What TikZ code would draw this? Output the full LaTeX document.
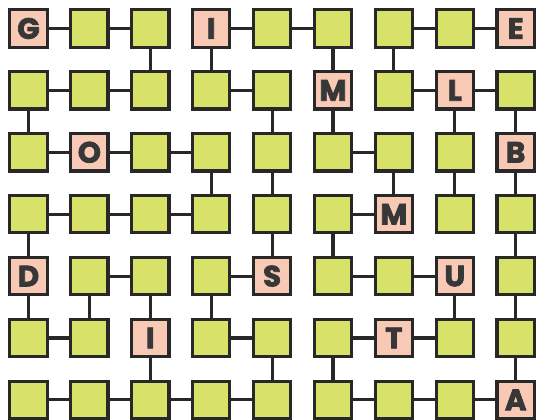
\documentclass[tikz,border=0pt]{standalone}
\usepackage{fontspec}
\setmainfont{Poppins}
\newfontfamily\letterfont[BoldFeatures={FakeBold=2.5}]{Poppins}
\definecolor{boxgreen}{RGB}{216,226,104}
\definecolor{boxpink}{RGB}{248,201,180}
\definecolor{edgedark}{RGB}{40,40,40}
\definecolor{letterdark}{RGB}{55,55,55}
\newcommand{\cellletter}[1]{{\letterfont\bfseries\fontsize{22}{22}\selectfont #1}}
\begin{document}
\begin{tikzpicture}[x=0.75pt,y=-0.75pt,
  cell/.style={draw=edgedark,line width=2.4pt,fill=boxgreen,minimum size=28pt,inner sep=0pt,text=letterdark},
  lettercell/.style={cell,fill=boxpink},
  link/.style={draw=edgedark,line width=2.3pt}]
\useasboundingbox (0,0) rectangle (536,420);
\foreach \r in {0,...,6}{
  \foreach \c in {0,...,8}{
    \pgfmathsetmacro{\xx}{28.5+60.9*\c}
    \pgfmathsetmacro{\yy}{28.5+61.9*\r}
    \coordinate (p-\r-\c) at (\xx,\yy);
  }
}
% connectors (drawn first)
\foreach \r/\a/\b in {0/0/1,0/1/2,0/3/4,0/4/5,0/6/7,0/7/8,
  1/0/1,1/1/2,1/3/4,1/6/7,1/7/8,
  2/0/1,2/1/2,2/2/3,2/5/6,
  3/0/1,3/1/2,3/2/3,3/5/6,
  4/1/2,4/3/4,4/5/6,4/6/7,
  5/0/1,5/3/4,5/5/6,5/6/7,
  6/0/1,6/1/2,6/2/3,6/3/4,6/5/6,6/6/7,6/7/8}{
  \draw[link] (p-\r-\a) -- (p-\r-\b);
}
\foreach \c/\a/\b in {2/0/1,3/0/1,5/0/1,6/0/1,
  0/1/2,4/1/2,5/1/2,7/1/2,8/1/2,
  3/2/3,4/2/3,6/2/3,7/2/3,8/2/3,
  0/3/4,4/3/4,5/3/4,8/3/4,
  0/4/5,1/4/5,2/4/5,3/4/5,7/4/5,8/4/5,
  2/5/6,4/5/6,5/5/6,8/5/6}{
  \draw[link] (p-\a-\c) -- (p-\b-\c);
}
% cells
\foreach \r in {0,...,6}{
  \foreach \c in {0,...,8}{
    \node[cell] (n-\r-\c) at (p-\r-\c) {};
  }
}
% letter cells
\foreach \r/\c/\t in {0/0/G,0/3/I,0/8/E,1/5/M,1/7/L,2/1/O,2/8/B,3/6/M,
  4/0/D,4/4/S,4/7/U,5/2/I,5/6/T,6/8/A}{
  \node[lettercell] (l-\r-\c) at (p-\r-\c) {\cellletter{\t}};
}
\end{tikzpicture}
\end{document}
